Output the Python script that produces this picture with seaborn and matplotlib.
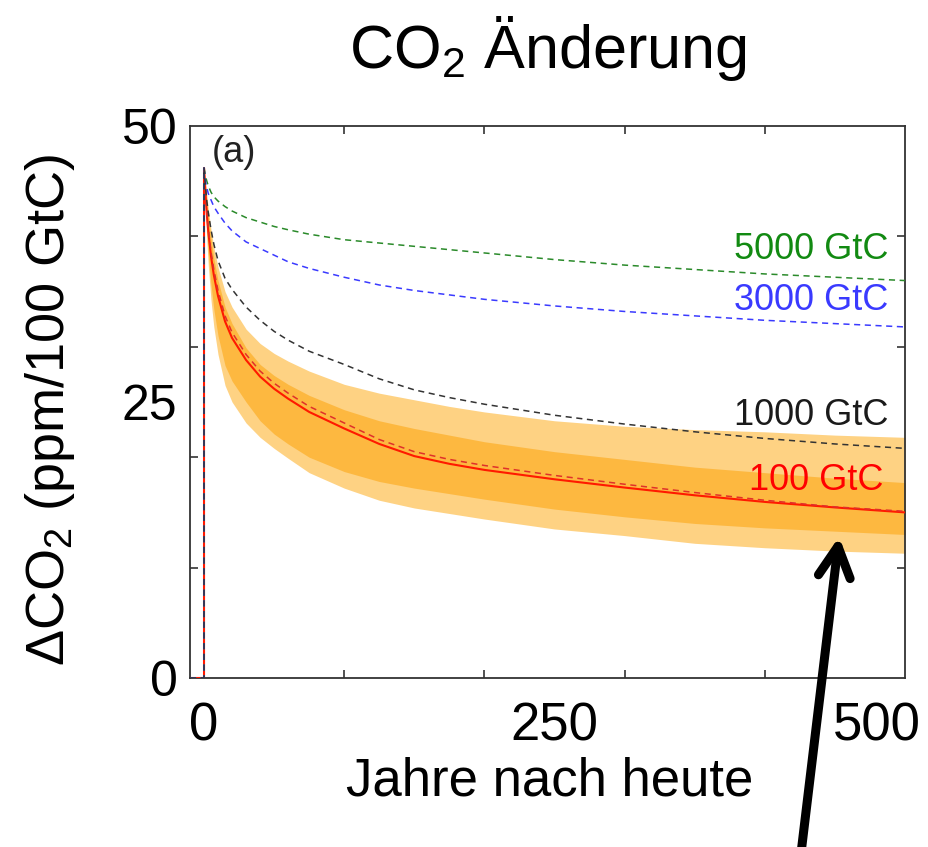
import matplotlib
matplotlib.use("Agg")
import matplotlib.pyplot as plt
import seaborn as sns
import numpy as np
from matplotlib.transforms import ScaledTranslation

# ---------------- data ----------------
years = [-10, 0, 0, 1, 2, 3, 5, 7, 10, 15, 20, 30, 40, 50, 60, 75, 100, 125, 150, 175,
         200, 250, 300, 350, 400, 450, 500]
pulse_5000 = [0, 0, 46.2, 45.5, 45.0, 44.6, 44.0, 43.6, 43.2, 42.7, 42.3, 41.7, 41.3, 40.9,
              40.6, 40.2, 39.7, 39.4, 39.1, 38.8, 38.5, 37.9, 37.4, 37.0, 36.6, 36.3, 36.0]
pulse_3000 = [0, 0, 46.2, 45.0, 44.4, 43.9, 43.3, 42.7, 42.1, 41.2, 40.5, 39.5, 38.9, 38.3,
              37.7, 37.1, 36.3, 35.6, 35.1, 34.7, 34.3, 33.7, 33.2, 32.8, 32.4, 32.1, 31.8]
pulse_1000 = [0, 0, 46.2, 44.5, 43.2, 42.2, 40.6, 39.3, 37.8, 36.2, 35.2, 33.6, 32.4, 31.4,
              30.6, 29.6, 28.4, 27.1, 26.1, 25.4, 24.8, 23.8, 23.0, 22.3, 21.7, 21.2, 20.8]
pulse_100_dash = [0, 0, 46.2, 44.1, 42.2, 40.8, 38.6, 37.0, 35.1, 32.8, 31.3, 29.3, 27.8, 26.7,
                  25.8, 24.6, 23.1, 21.6, 20.5, 19.8, 19.25, 18.35, 17.55, 16.8, 16.1, 15.5, 15.1]
pulse_100 = [0, 0, 46.2, 44.0, 42.0, 40.5, 38.2, 36.5, 34.6, 32.3, 30.8, 28.8, 27.3, 26.2,
             25.3, 24.1, 22.6, 21.2, 20.1, 19.4, 18.85, 18.0, 17.25, 16.55, 15.95, 15.45, 15.0]

band_years = [0, 1, 2, 3, 5, 7, 10, 15, 20, 30, 40, 50, 60, 75, 100, 125, 150, 175,
              200, 250, 300, 350, 400, 450, 500]
light_hi = [46.2, 45.0, 43.8, 42.5, 40.6, 39.0, 37.2, 35.0, 33.6, 31.6, 30.3, 29.4, 28.7,
            27.8, 26.6, 25.8, 25.2, 24.6, 24.1, 23.3, 22.8, 22.5, 22.3, 22.0, 21.8]
dark_hi = [46.2, 44.6, 43.2, 41.9, 39.8, 38.0, 36.0, 33.6, 32.1, 29.9, 28.4, 27.4, 26.6,
           25.6, 24.3, 23.3, 22.6, 22.0, 21.4, 20.5, 19.8, 19.1, 18.6, 18.1, 17.7]
dark_lo = [46.2, 43.0, 40.5, 38.5, 35.6, 33.4, 31.0, 28.3, 26.9, 25.0, 23.3, 22.1, 21.2,
           20.0, 18.7, 17.8, 17.2, 16.7, 16.2, 15.3, 14.6, 14.0, 13.6, 13.3, 13.0]
light_lo = [46.2, 42.5, 39.6, 37.4, 34.2, 31.8, 29.3, 26.5, 25.0, 23.1, 21.8, 20.8, 19.9,
            18.6, 17.2, 16.1, 15.4, 14.9, 14.4, 13.5, 12.9, 12.2, 11.8, 11.5, 11.3]

line_labels = ["5000 GtC", "3000 GtC", "1000 GtC", "100 GtC"]
label_pos = [(488, 38.8), (488, 34.2), (488, 23.8), (485, 17.9)]

x_ticks = [0, 250, 500]
y_ticks = [0, 25, 50]

# ---------------- style ----------------
sns.set_style("white")
plt.rcParams["font.family"] = ["Liberation Sans", "DejaVu Sans"]
plt.rcParams["mathtext.fontset"] = "custom"
plt.rcParams["mathtext.rm"] = "Liberation Sans"
plt.rcParams["mathtext.it"] = "Liberation Sans:italic"
plt.rcParams["text.color"] = "black"
plt.rcParams["axes.labelcolor"] = "black"
plt.rcParams["xtick.color"] = "black"
plt.rcParams["ytick.color"] = "black"

fig = plt.figure(figsize=(9.29, 8.47), dpi=100)
ax = fig.add_axes([190 / 929, 1 - 678 / 847, 715 / 929, 552 / 847])

c_light = "#fed283"
c_dark = "#fdb840"
ax.fill_between(band_years, light_lo, light_hi, color=c_light, lw=0, zorder=1)
ax.fill_between(band_years, dark_lo, dark_hi, color=c_dark, lw=0, zorder=2)

dash = (0, (4, 3))
sns.lineplot(x=years, y=pulse_100, estimator=None, sort=False, color="#ff1a00",
             lw=1.5, ax=ax, zorder=3)
sns.lineplot(x=years, y=pulse_100_dash, estimator=None, sort=False, color="#e0302a",
             lw=1.1, linestyle=dash, ax=ax, zorder=4)
sns.lineplot(x=years, y=pulse_5000, estimator=None, sort=False, color="#2a8a2a",
             lw=1.1, linestyle=dash, ax=ax, zorder=4)
sns.lineplot(x=years, y=pulse_3000, estimator=None, sort=False, color="#3a3aff",
             lw=1.1, linestyle=dash, ax=ax, zorder=4)
sns.lineplot(x=years, y=pulse_1000, estimator=None, sort=False, color="#333333",
             lw=1.1, linestyle=dash, ax=ax, zorder=5)

ax.set_xlim(-10, 500)
ax.set_ylim(0, 50)

# main tick labels (no marks)
ax.set_xticks(x_ticks)
ax.set_xticklabels([str(v) for v in x_ticks])
ax.set_yticks(y_ticks)
ax.set_yticklabels([str(v) for v in y_ticks])
ax.tick_params(axis="x", which="major", length=0, pad=17, labelsize=38)
ax.tick_params(axis="y", which="major", length=0, pad=9, labelsize=36)
# small inner tick marks
ax.set_xticks(np.arange(0, 501, 100), minor=True)
ax.set_yticks(np.arange(10, 41, 10), minor=True)
ax.tick_params(which="minor", direction="in", length=6, width=1.2, color="#333333",
               top=True, bottom=True, left=True, right=True)
for s in ax.spines.values():
    s.set_color("#333333")
    s.set_linewidth(1.3)

# shift the last x label to stay inside the figure
lbl = ax.get_xticklabels()[-1]
lbl.set_transform(lbl.get_transform() + ScaledTranslation(-0.28, 0, fig.dpi_scale_trans))

ax.set_xlabel("Jahre nach heute", fontsize=38)
ax.xaxis.set_label_coords(0.503, -0.143)
ax.set_ylabel("ΔCO$_2$ (ppm/100 GtC)", fontsize=39)
ax.yaxis.set_label_coords(-0.158, 0.485)

ax.text(0.5, 1 + (126 - 48) / 552, "CO$_2$ Änderung", transform=ax.transAxes,
        ha="center", va="center", fontsize=44)

ax.text(5.5, 49.2, "(a)", ha="left", va="top", fontsize=26, color="#222222")
label_colors = ["#128a12", "#3a3aff", "#1a1a1a", "#ff0000"]
for txt, (lx, ly), col in zip(line_labels, label_pos, label_colors):
    ax.text(lx, ly, txt, ha="right", va="center", fontsize=26, color=col, zorder=6)

ax.annotate("", xy=(453, 12.8), xycoords="data", xytext=(799, -23),
            textcoords="figure pixels", annotation_clip=False,
            arrowprops=dict(arrowstyle="->,head_length=22,head_width=11.5",
                            mutation_scale=1, lw=6.5, color="black",
                            shrinkA=0, shrinkB=0, capstyle="round", joinstyle="round"))

fig.savefig("out.png", dpi=100)
